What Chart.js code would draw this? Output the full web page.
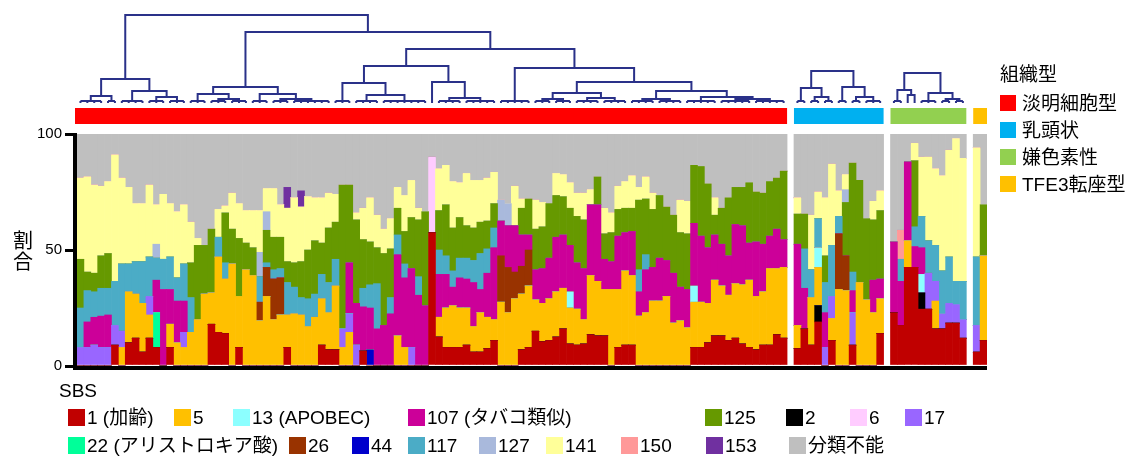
<!DOCTYPE html>
<html><head><meta charset="utf-8">
<script src="https://cdn.jsdelivr.net/npm/chart.js@4.4.1/dist/chart.umd.min.js"></script>
<style>
html,body{margin:0;padding:0;background:#fff;}
#wrap{position:relative;width:1147px;height:464px;overflow:hidden;font-family:"Liberation Sans",Arial,"Noto Sans CJK JP",sans-serif;color:#000;}
#c{position:absolute;left:0;top:0;}
.t{position:absolute;white-space:nowrap;font-size:19px;line-height:21px;}
.sw{position:absolute;width:17px;height:17px;}
</style></head><body>
<div id="wrap"><canvas id="c" width="1147" height="464"></canvas></div>
<script>
// ---- groups (histological types) ----
const groupNames = ['淡明細胞型','乳頭状','嫌色素性','TFE3転座型'];
const groupSizes = [103, 13, 11, 2];
const groupColors = ['#ff0000','#00b0f0','#92d050','#ffc000'];

// ---- series values (%), samples in order: clear cell(103), papillary(13), chromophobe(11), TFE3(2) ----
const sbs1 = [0,0,0,0,0,9,0,10,12,6,
 12,8,0,8,0,0,0,0,0,18,
 14.5,14,0,8,0,0,0,0,0,0,
 8,0,0,0,0,9,7,7,0,0,
 0,6.5,0,0,0,0,0,0,0,0,
 0,57.5,12.5,8,8,8,9,6,6,7.5,
 11,0,0,0,7,8,15,10.5,11,12.5,
 16,9.5,9,9.5,13.5,13,13,0,8,9,
 9,0,0,0,0,0,0,0,0,8,
 8,10,13,13,11,12,9.5,8,7,9,
 9,13.5,12,
 7.5,16,9,19,0,11,0,0,9,0,0,0,14,
 23,17.5,42.5,42.5,24.5,24.5,16,16,18.5,18.5,12,
 6,11];
const sbs2 = [0,0,0,0,0,0,0,0,0,0,
 0,0,0,0,0,0,0,0,0,0,
 0,0,0,0,0,0,0,0,0,0,
 0,0,0,0,0,0,0,0,0,0,
 0,0,0,0,0,0,0,0,0,0,
 0,0,0,0,0,0,0,0,0,0,
 0,0,0,0,0,0,0,0,0,0,
 0,0,0,0,0,0,0,0,0,0,
 0,0,0,0,0,0,0,0,0,0,
 0,0,0,0,0,0,0,0,0,0,
 0,0,0,
 0,0,0,7,0,0,0,0,0,0,0,0,0,
 0,0,0,0,7,0,0,0,0,0,0,
 0,0];
const sbs5 = [0,0,0,0,0,0,8,22,19,21,
 10,0,0,10,10,8,14.5,20,31,13.5,
 32.5,23.5,44,22,41.5,39,19.5,30,20,22,
 14,22.5,22,17,21,20,16,27.5,8,14.5,
 0,0,0,0,0,0,13,8,0,0,
 0,0,8.5,17,18,17,16,11,17,13.5,
 9,27.5,23,29,24,26.5,13.5,16.5,18,19.5,
 17.5,15.5,15.5,10.5,25.5,23.5,20,33,25,32,
 30,21.5,23,28,28,30,18.5,19.5,16.5,19.5,
 19.5,17,24,21.5,19.5,23.5,25.5,29,23,23,
 33,28.5,30.5,
 10,0,20.5,16.5,0,9.5,33,32.5,0,36,28.5,23,15,
 0,0,11.5,0,0,0,12,0,0,0,0,
 0,36.5];
const sbs6 = [0,0,0,0,0,0,0,0,0,0,
 0,0,0,0,0,0,0,0,0,0,
 0,0,0,0,0,0,0,0,0,0,
 0,0,0,0,0,0,0,0,0,0,
 0,0,0,0,0,0,0,0,0,0,
 0,32.5,0,0,0,0,0,0,0,0,
 0,0,0,0,0,0,0,0,0,0,
 0,0,0,0,0,0,0,0,0,0,
 0,0,0,0,0,0,0,0,0,0,
 0,0,0,0,0,0,0,0,0,0,
 0,0,0,
 0,0,0,0,0,0,0,0,0,0,0,0,0,
 0,0,0,0,0,0,0,0,0,0,0,
 0,0];
const sbs13 = [0,0,0,0,0,0,0,0,0,0,
 0,0,0,0,0,0,0,0,0,0,
 0,0,0,0,0,0,0,0,0,0,
 0,0,0,0,0,0,0,0,0,0,
 0,0,0,0,0,0,0,0,0,0,
 0,0,0,0,0,0,0,0,0,0,
 0,0,0,0,0,0,0,0,0,0,
 0,7,0,0,0,0,0,0,0,0,
 0,0,0,0,0,0,0,0,0,7,
 0,0,0,0,0,0,0,0,0,0,
 0,0,0,
 0,0,0,8.5,0,0,0,0,0,0,0,0,0,
 0,0,0,0,8,0,0,0,0,0,0,
 0,0];
const sbs17 = [8,8,9,8,8,8.5,7,0,0,0,
 8,0,0,0,0,6.5,0,0,0,0,
 0,0,0,0,0,0,0,0,0,0,
 0,0,0,0,0,0,0,0,8,8,
 9,0,0,0,0,0,0,0,8,0,
 0,0,0,0,0,0,0,0,0,0,
 0,0,0,0,0,0,0,0,0,0,
 0,0,0,0,0,0,0,0,0,0,
 0,0,0,0,0,0,0,0,0,0,
 0,0,0,0,0,0,0,0,0,0,
 0,0,0,
 0,0,0,0,8,9.5,0,0,14,0,0,0,0,
 0,0,0,0,0,15.5,8.5,6.5,8.5,8,8,
 11.5,0];
const sbs22 = [0,0,0,0,0,0,0,0,0,0,
 0,15,0,0,0,0,0,0,0,0,
 0,0,0,0,0,0,0,0,0,0,
 0,0,0,0,0,0,0,0,0,0,
 0,0,0,0,0,0,0,0,0,0,
 0,0,0,0,0,0,0,0,0,0,
 0,0,0,0,0,0,0,0,0,0,
 0,0,0,0,0,0,0,0,0,0,
 0,0,0,0,0,0,0,0,0,0,
 0,0,0,0,0,0,0,0,0,0,
 0,0,0,
 0,0,0,0,0,0,0,0,0,0,0,0,0,
 0,0,0,0,0,0,0,0,0,0,0,
 0,0];
const sbs26 = [0,0,0,0,0,0,0,0,0,0,
 0,0,0,0,0,0,0,0,0,0,
 0,0,0,0,0,0,8,12.5,17.5,16,
 0,0,0,0,0,0,0,0,0,0,
 0,0,0,0,0,0,0,0,0,0,
 0,0,0,0,0,0,0,0,0,0,
 0,20,19.5,11.5,12,15.5,0,0,0,0,
 0,0,0,0,0,0,0,0,0,0,
 0,0,0,0,0,0,0,0,0,0,
 0,0,0,0,0,0,0,0,0,0,
 0,0,0,
 0,0,0,0,0,0,24,15,0,0,0,0,0,
 0,0,0,0,0,0,0,0,0,0,0,
 0,0];
const sbs44 = [0,0,0,0,0,0,0,0,0,0,
 0,0,0,0,0,0,0,0,0,0,
 0,0,0,0,0,0,0,0,0,0,
 0,0,0,0,0,0,0,0,0,0,
 0,0,7,0,0,0,0,0,0,0,
 0,0,0,0,0,0,0,0,0,0,
 0,0,0,0,0,0,0,0,0,0,
 0,0,0,0,0,0,0,0,0,0,
 0,0,0,0,0,0,0,0,0,0,
 0,0,0,0,0,0,0,0,0,0,
 0,0,0,
 0,0,0,0,0,0,0,0,0,0,0,0,0,
 0,0,0,0,0,0,0,0,0,0,0,
 0,0];
const sbs107 = [0,11,12,13.5,14,0,0,0,0,0,
 0,14,33,15,18,13.5,0,0,0,0,
 0,0,0,0,0,0,0,0,0,0,
 0,0,0,0,0,0,0,0,0,22,
 18,19,18,16,17.5,22.5,35,30,34,30.5,
 26,0,18.5,14.5,8,13,12.5,19,10,19,
 31,15,18,20,13.5,6.5,13,15,17.5,23.5,
 23,20,20,22,30.5,33,13,12,23,16.5,
 19,10.5,18.5,14.5,18.5,15.5,21.5,14.5,16.5,27,
 28.5,24,19.5,18,17,25.5,25.5,16,23.5,20.5,
 14,17,12,
 35,17.5,0,0,15,0,0,0,9.5,0,0,14,8.5,
 30.5,19,34,9,11.5,0,0,0,0,0,0,
 0,0];
const sbs117 = [17,13.5,11,12,11.5,19,29,12,14,18,
 17,9.5,13,14,10,16,15,0,0,0,
 8.5,7,0,0,0,0,11,2,4,4,
 14,11.5,7.5,12,10,10.5,13,11.5,0,0,
 0,8,10,19.5,0,7,8.5,6,0,8,
 0,0,10.5,8,7,8.5,9,9.5,15.5,10.5,
 8.5,0,0,0,0,0,0,0,0,0,
 0,0,0,0,0,0,0,0,0,0,
 0,9.5,6.5,0,0,0,0,0,0,0,
 0,0,0,0,0,0,0,0,0,0,
 0,0,0,
 0,17,12,12.5,13,22,7.5,0,8,0,0,0,0,
 0,9.5,0,8.5,13.5,14,15.5,18.5,20,10,16.5,
 29.5,0];
const sbs125 = [21,8,8,14,15,0,0,0,0,0,
 0,0,0,0,0,0,15,32,21,27.5,
 0,21.5,15,25,11.5,12,0,14,14,13.5,
 9,10.5,15.5,21,23,13.5,23.5,16,62,33.5,
 36,21,18.5,15.5,31,21,11.5,14,22,24.5,
 40.5,0,17,22,18.5,17.5,14,14,13.5,12,
 10.5,0,0,0,11.5,15.5,17.5,18,23.5,18,
 16.5,16,20,21,0,12,11,12.5,11.5,10.5,
 10,30,24,25,27,23,25,23.5,24,25,
 30,27.5,8.5,15.5,25,16,16.5,26,21.5,22,
 23.5,22,29.5,
 13,15,0,0,11.5,0,0,23,47,44,35,26,29.5,
 0,0,0,28.5,0,0,0,0,0,0,0,
 0,22];
const sbs127 = [0,0,0,0,0,0,0,0,0,0,
 0,6,0,0,0,0,0,0,0,0,
 0,0,0,0,0,0,10.5,8,0,0,
 0,0,0,0,0,0,0,0,0,0,
 0,0,0,0,0,0,0,0,0,0,
 0,0,0,0,0,0,0,0,0,0,
 0,9,9.5,0,0,0,0,0,0,0,
 0,0,0,0,0,0,0,0,0,0,
 0,0,0,0,0,0,0,0,0,0,
 0,0,0,0,0,0,0,0,0,0,
 0,0,0,
 0,0,0,0,0,0,0,5.5,0,0,0,0,0,
 0,0,0,0,0,0,0,0,0,0,0,
 0,0];
const sbs141 = [35,41,38,30,31,54.5,37,33,25,25,
 31,17,28,23,28.5,25.5,17.5,3,0,0,
 12,3,15.5,15,14,16,18,10,21,14,
 23,28,23.5,23,18.5,19.5,15,12,0,0,
 3,13.5,19,14,10.5,13,9,15.5,16,5,
 0,0,18,17,20,15,22.5,20.5,18,18.5,
 13.5,0,0,17,4,0,12.5,10.5,0,9.5,
 9.5,11,10,11.5,6.5,0,11,8.5,10,11.5,
 14,5.5,9.5,7,0,0,0,14,14,0,
 0,0,7.5,0,0,0,0,0,0,0,
 0,0,0,
 7,0,23.5,11.5,25,35,11,6.5,0,0,0,8,8.5,
 0,0,0,7.5,25.5,36,33,41,46,61.5,53,
 47,0];
const sbs150 = [0,0,0,0,0,0,0,0,0,0,
 0,0,0,0,0,0,0,0,0,0,
 0,0,0,0,0,0,0,0,0,0,
 0,0,0,0,0,0,0,0,0,0,
 0,0,0,0,0,0,0,0,0,0,
 0,0,0,0,0,0,0,0,0,0,
 0,0,0,0,0,0,0,0,0,0,
 0,0,0,0,0,0,0,0,0,0,
 0,0,0,0,0,0,0,0,0,0,
 0,0,0,0,0,0,0,0,0,0,
 0,0,0,
 0,0,0,0,0,0,0,0,0,0,0,0,0,
 0,12.5,0,0,0,0,0,0,0,0,0,
 0,0];
const sbs153 = [0,0,0,0,0,0,0,0,0,0,
 0,0,0,0,0,0,0,0,0,0,
 0,0,0,0,0,0,0,0,0,0,
 9,0,7,0,0,0,0,0,0,0,
 0,0,0,0,0,0,0,0,0,0,
 0,0,0,0,0,0,0,0,0,0,
 0,0,0,0,0,0,0,0,0,0,
 0,0,0,0,0,0,0,0,0,0,
 0,0,0,0,0,0,0,0,0,0,
 0,0,0,0,0,0,0,0,0,0,
 0,0,0,
 0,0,0,0,0,0,0,0,0,0,0,0,0,
 0,0,0,0,0,0,0,0,0,0,0,
 0,0];
const unclassified = [19,18.5,22,22.5,20.5,9,19,23,30,30,
 22,30.5,26,30,33.5,30.5,38,45,48,41,
 32.5,31,25.5,30,33,33,33,23.5,23.5,30.5,
 23,27.5,24.5,27,27.5,27.5,25.5,26,22,22,
 34,32,27.5,35,41,36.5,23,26.5,20,32,
 33.5,10,15,13.5,20.5,21,17,20,20,19,
 16.5,28.5,30,22.5,28,28,28.5,29.5,30,17,
 17.5,21,25.5,25.5,24,18.5,32,34,22.5,20.5,
 18,23,18.5,25.5,26.5,31.5,35,28.5,29,13.5,
 14,21.5,27.5,32,27.5,23,23,21,25,25.5,
 20.5,19,16,
 27.5,34.5,35,25,27.5,13,24.5,17.5,12.5,20,36.5,29,24.5,
 46.5,41.5,12,4,10,10,15,18,7,2,10.5,
 6,30.5];

// ---- y axis tick values ----
const yTicks = [0, 50, 100];

// ---- dendrograms: [height, left, right]; a plain number n = n neighbouring leaves ----
const treeClear = [88,
  [24, [7, 4, 2], [12, 4, [6, 3, 3]]],
  [71,
    [16, [9, 3, [4, 3, 3]], [9, 3, [4, 3, 6]]],
    [54,
      [37, [20, 3, [8, 4, 7]], [21, 1, [5, 4, 5]]],
      [35, 5, [21, [10, [4, 3, 3], [5, 4, 4]], [12, [4, 4, 4], [6, 5, [4, 5, 5]]]]]
    ]
  ]
];
const treePap = [32, [15, 2, [6, 2, 2]], [16, 2, [6, 2, 3]]];
const treeChr = [30, [13, 2, [8, 1, 1]], [10, 3, [4, 2, 2]]];
const trees = [treeClear, treePap, treeChr, null];

// ---- series: name, values, colour (stacking order bottom -> top) ----
const series = [
  ['1 (加齢)', sbs1, '#c00000'],
  ['2', sbs2, '#000000'],
  ['44', sbs44, '#0000cc'],
  ['5', sbs5, '#ffc000'],
  ['17', sbs17, '#9966ff'],
  ['22 (アリストロキア酸)', sbs22, '#00ff99'],
  ['13 (APOBEC)', sbs13, '#8cffff'],
  ['26', sbs26, '#993300'],
  ['107 (タバコ類似)', sbs107, '#cc0099'],
  ['117', sbs117, '#4bacc6'],
  ['125', sbs125, '#669900'],
  ['127', sbs127, '#a9b9dc'],
  ['141', sbs141, '#ffff99'],
  ['6', sbs6, '#ffccff'],
  ['150', sbs150, '#ff9999'],
  ['153', sbs153, '#7030a0'],
  ['分類不能', unclassified, '#bfbfbf']
];

// ---- legend layout ----
const legendRows = [
  [['1 (加齢)',68],['5',174],['13 (APOBEC)',233],['107 (タバコ類似)',408],['125',705],['2',786],['6',850],['17',905]],
  [['22 (アリストロキア酸)',68],['26',289],['44',352],['117',408],['127',479],['141',546],['150',621],['153',706],['分類不能',789]]
];
const legendRowTop = [409, 437];

// ---- build categories (one blank slot between groups) ----
const labels = [], catIndex = [], groupFirstCat = [];
let cat = 0;
groupSizes.forEach((n, g) => {
  if (g > 0) { labels.push(''); cat++; }
  groupFirstCat.push(cat);
  for (let i = 0; i < n; i++) { labels.push(groupNames[g] + ' ' + (i + 1)); catIndex.push(cat); cat++; }
});
function expand(arr) {
  const out = new Array(labels.length).fill(null);
  arr.forEach((v, i) => { out[catIndex[i]] = v; });
  return out;
}

const FONT = '"Liberation Sans", Arial, "Noto Sans CJK JP", sans-serif';

function drawTree(ctx, node, state, leafX, y0) {
  if (typeof node === 'number') {
    const xs = [];
    for (let i = 0; i < node; i++) xs.push(leafX(state.i++));
    if (node === 1) return {x: xs[0], h: 0};
    const h = 2;
    ctx.beginPath();
    xs.forEach(x => { ctx.moveTo(x, y0); ctx.lineTo(x, y0 - h); });
    ctx.moveTo(xs[0], y0 - h); ctx.lineTo(xs[xs.length - 1], y0 - h);
    ctx.stroke();
    return {x: (xs[0] + xs[xs.length - 1]) / 2, h};
  }
  const [h, L, R] = node;
  const l = drawTree(ctx, L, state, leafX, y0);
  const r = drawTree(ctx, R, state, leafX, y0);
  ctx.beginPath();
  ctx.moveTo(l.x, y0 - l.h); ctx.lineTo(l.x, y0 - h); ctx.lineTo(r.x, y0 - h); ctx.lineTo(r.x, y0 - r.h);
  ctx.stroke();
  return {x: (l.x + r.x) / 2, h};
}

const decor = {
  id: 'decor',
  afterDraw(chart) {
    const ctx = chart.ctx, xs = chart.scales.x, a = chart.chartArea;
    const w = xs.getPixelForValue(1) - xs.getPixelForValue(0);
    ctx.save();
    // axis lines
    ctx.fillStyle = '#000';
    ctx.fillRect(a.left - 4, a.top - 1, 4, a.bottom - a.top + 5);
    ctx.fillRect(a.left - 4, a.bottom, a.right - a.left + 4, 4);
    // group colour bars
    groupSizes.forEach((n, g) => {
      const x0 = xs.getPixelForValue(groupFirstCat[g]) - w / 2;
      const x1 = xs.getPixelForValue(groupFirstCat[g] + n - 1) + w / 2;
      ctx.fillStyle = groupColors[g];
      ctx.fillRect(x0 - (g === 0 ? 2 : 0), 108, x1 - x0 + (g === 0 ? 2 : 0), 16);
    });
    // dendrograms
    ctx.strokeStyle = '#2a3189';
    ctx.lineWidth = 2;
    ctx.lineJoin = 'miter';
    ctx.lineCap = 'butt';
    trees.forEach((t, g) => {
      if (!t) return;
      const leafX = i => xs.getPixelForValue(groupFirstCat[g] + i);
      drawTree(ctx, t, {i: 0}, leafX, 103);
    });
    ctx.restore();
  }
};

new Chart(document.getElementById('c'), {
  type: 'bar',
  data: {
    labels,
    datasets: series.map(([name, vals, color]) => ({
      label: name, data: expand(vals), backgroundColor: color, borderWidth: 0,
      barPercentage: 1, categoryPercentage: 1
    }))
  },
  options: {
    responsive: false, animation: false, devicePixelRatio: 1,
    layout: {padding: {left: 0, right: 160, top: 134, bottom: 98}},
    plugins: {legend: {display: false}, tooltip: {enabled: false}},
    scales: {
      x: {stacked: true, ticks: {display: false}, grid: {display: false}, border: {display: false},
          afterFit(s) { s.height = 0; }},
      y: {stacked: true, min: 0, max: 100,
          afterBuildTicks(s) { s.ticks = yTicks.map(v => ({value: v})); },
          ticks: {color: '#000', font: {family: FONT, size: 15}, padding: 3},
          grid: {drawOnChartArea: false, drawTicks: true, tickLength: 12, lineWidth: 3, color: '#000'},
          border: {display: false},
          afterFit(s) { s.width = 77; }}
    }
  },
  plugins: [decor]
});

// ---- HTML text: axis title, legends ----
const wrap = document.getElementById('wrap');
function addText(txt, left, top, extra) {
  const d = document.createElement('div');
  d.className = 't'; d.textContent = txt;
  d.style.left = left + 'px'; d.style.top = top + 'px';
  if (extra) Object.assign(d.style, extra);
  wrap.appendChild(d); return d;
}
function addSwatch(color, left, top, size) {
  const d = document.createElement('div');
  d.className = 'sw'; d.style.background = color;
  d.style.left = left + 'px'; d.style.top = top + 'px';
  d.style.width = size + 'px'; d.style.height = size + 'px';
  wrap.appendChild(d);
}
// y-axis title (vertical, stacked characters)
const yt = addText('', 12, 231, {fontSize: '20px', lineHeight: '21px', width: '22px', textAlign: 'center', whiteSpace: 'normal'});
yt.innerHTML = '割<br>合';
// SBS legend
addText('SBS', 59, 380, {fontSize: '19px'});
const colorOf = Object.fromEntries(series.map(([n, , c]) => [n, c]));
legendRows.forEach((row, r) => {
  row.forEach(([name, x]) => {
    addSwatch(colorOf[name], x, legendRowTop[r], 17);
    addText(name, x + 19, legendRowTop[r] - 2);
  });
});
// histology legend
addText('組織型', 1000, 64, {fontSize: '19px'});
groupNames.forEach((n, g) => {
  const top = 95 + g * 27;
  addSwatch(groupColors[g], 1000, top, 16);
  addText(n, 1022, top - 2);
});
</script>
</body></html>
